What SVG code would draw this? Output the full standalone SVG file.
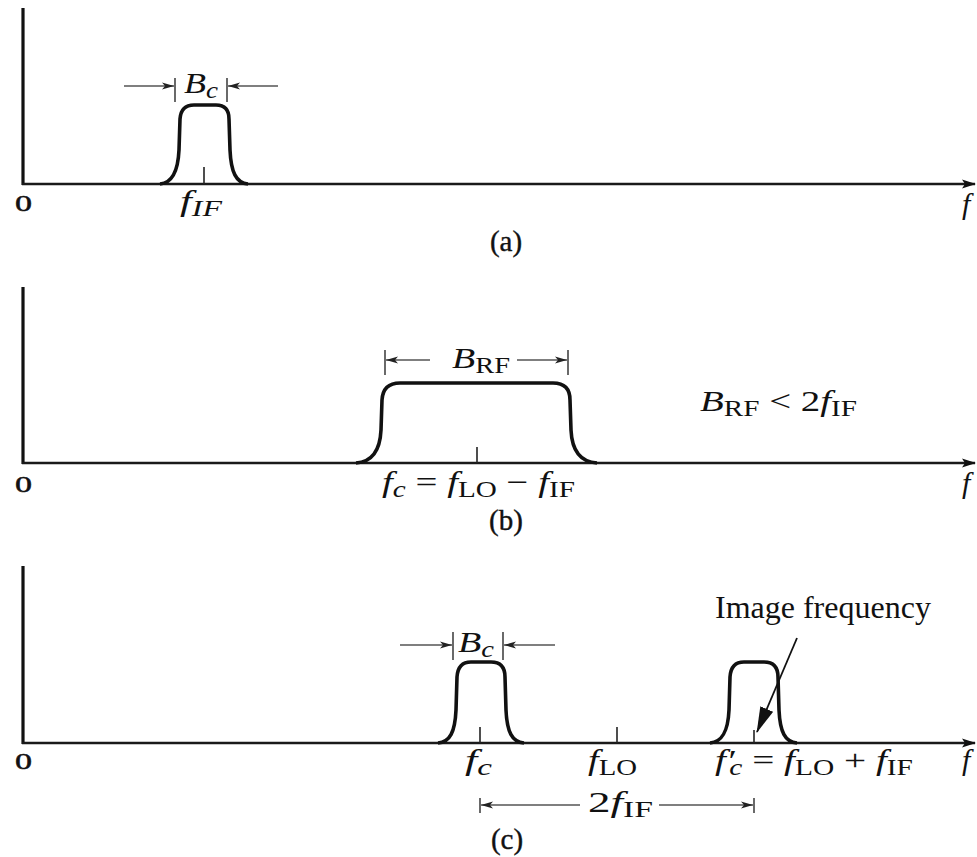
<svg xmlns="http://www.w3.org/2000/svg" width="977" height="857" viewBox="0 0 977 857">
<style>
.bg{fill:#fff}
.axis{stroke:#1a1a1a;stroke-width:2.6;fill:none}
.yaxis{stroke:#111;stroke-width:3.2;fill:none}
.pulse{stroke:#111;stroke-width:3.6;fill:none;stroke-linejoin:round}
.tick{stroke:#222;stroke-width:1.6}
.bar{stroke:#444;stroke-width:1.6}
.dim{stroke:#555;stroke-width:1.4;fill:none}
.t{font-family:"Liberation Serif","Times New Roman",serif;fill:#111}
.m{font-style:italic}
.up{font-style:normal}
.sub{font-size:75%}
.cap{font-size:29px;stroke:#111;stroke-width:0.4}
.lab{font-size:30px}
.zero{font-size:24px;stroke:#111;stroke-width:0.5}
</style>
<defs>
<marker id="ah" viewBox="0 0 12 8" refX="12" refY="4" markerWidth="13" markerHeight="8" markerUnits="userSpaceOnUse" orient="auto">
<path d="M0,0.5 L12,4 L0,7.5 L3,4 z" fill="#222"/>
</marker>
<marker id="axh" viewBox="0 0 14 10" refX="13" refY="5" markerWidth="14" markerHeight="10" markerUnits="userSpaceOnUse" orient="auto">
<path d="M0,0.5 L14,5 L0,9.5 L3,5 z" fill="#111"/>
</marker>
<marker id="bigh" viewBox="0 0 26 14" refX="25" refY="7" markerWidth="26" markerHeight="14" markerUnits="userSpaceOnUse" orient="auto">
<path d="M0,0 L26,7 L0,14 z" fill="#111"/>
</marker>
</defs>
<rect class="bg" x="0" y="0" width="977" height="857"/>

<g id="panel-a">
<line class="yaxis" x1="23" y1="8" x2="23" y2="185"/>
<line class="axis" x1="22" y1="184" x2="975" y2="184" marker-end="url(#axh)"/>
<path class="pulse" d="M160,184 C172,183 178,172 179,150 L180,119 Q181,105 194,105 L216,105 Q229,105 229,119 L230,150 C231,172 236,183 248,184"/>
<line class="tick" x1="204" y1="167" x2="204" y2="184"/>
<line class="bar" x1="175" y1="78" x2="175" y2="102"/>
<line class="bar" x1="227" y1="78" x2="227" y2="102"/>
<line class="dim" x1="124" y1="86" x2="174" y2="86" marker-end="url(#ah)"/>
<line class="dim" x1="278" y1="86" x2="228" y2="86" marker-end="url(#ah)"/>
<text class="t lab m" x="184" y="93" textLength="34" lengthAdjust="spacingAndGlyphs">B<tspan class="sub" dy="5">c</tspan></text>
<text class="t zero" x="15" y="211" textLength="17" lengthAdjust="spacingAndGlyphs">0</text>
<text class="t lab m" x="180" y="211" textLength="42" lengthAdjust="spacingAndGlyphs">f<tspan class="sub" dy="5">IF</tspan></text>
<text class="t lab m" x="962" y="214">f</text>
<text class="t cap" x="506" y="251" text-anchor="middle">(a)</text>
</g>

<g id="panel-b">
<line class="yaxis" x1="23" y1="287" x2="23" y2="464"/>
<line class="axis" x1="22" y1="463" x2="975" y2="463" marker-end="url(#axh)"/>
<path class="pulse" d="M356,463 C371,462 380,452 381,430 L382,400 Q383,383 400,383 L553,383 Q570,383 570,400 L571,430 C572,452 581,462 597,463"/>
<line class="tick" x1="477" y1="447" x2="477" y2="463"/>
<line class="bar" x1="385" y1="350" x2="385" y2="375"/>
<line class="bar" x1="568" y1="350" x2="568" y2="375"/>
<line class="dim" x1="430" y1="360" x2="386" y2="360" marker-end="url(#ah)"/>
<line class="dim" x1="517" y1="360" x2="567" y2="360" marker-end="url(#ah)"/>
<text class="t lab m" x="452" y="368" textLength="58" lengthAdjust="spacingAndGlyphs">B<tspan class="sub up" dy="5">RF</tspan></text>
<text class="t zero" x="15" y="492" textLength="17" lengthAdjust="spacingAndGlyphs">0</text>
<text class="t lab m" x="382" y="492" textLength="193" lengthAdjust="spacingAndGlyphs">f<tspan class="sub" dy="5">c</tspan><tspan class="up" dy="-5"> = </tspan>f<tspan class="sub up" dy="5">LO</tspan><tspan class="up" dy="-5"> − </tspan>f<tspan class="sub up" dy="5">IF</tspan></text>
<text class="t lab m" x="700" y="411" textLength="157" lengthAdjust="spacingAndGlyphs">B<tspan class="sub up" dy="5">RF</tspan><tspan class="up" dy="-5"> &lt; 2</tspan>f<tspan class="sub up" dy="5">IF</tspan></text>
<text class="t lab m" x="962" y="493">f</text>
<text class="t cap" x="506" y="530" text-anchor="middle">(b)</text>
</g>

<g id="panel-c">
<line class="yaxis" x1="23" y1="566" x2="23" y2="744"/>
<line class="axis" x1="22" y1="743" x2="975" y2="743" marker-end="url(#axh)"/>
<path class="pulse" d="M438,743 C450,742 455,732 456,710 L457,677 Q458,662 471,662 L491,662 Q505,662 505,677 L506,710 C507,732 512,742 524,743"/>
<path class="pulse" d="M710,743 C722,742 728,732 729,710 L730,677 Q731,662 744,662 L764,662 Q778,662 778,677 L779,710 C780,732 785,742 797,743"/>
<line class="tick" x1="480" y1="727" x2="480" y2="743"/>
<line class="tick" x1="617" y1="727" x2="617" y2="743"/>
<line class="tick" x1="754" y1="730" x2="754" y2="743"/>
<line class="bar" x1="453" y1="632" x2="453" y2="660"/>
<line class="bar" x1="503" y1="632" x2="503" y2="660"/>
<line class="dim" x1="400" y1="645" x2="452" y2="645" marker-end="url(#ah)"/>
<line class="dim" x1="555" y1="645" x2="504" y2="645" marker-end="url(#ah)"/>
<text class="t lab m" x="458" y="652" textLength="36" lengthAdjust="spacingAndGlyphs">B<tspan class="sub" dy="5">c</tspan></text>
<text class="t zero" x="15" y="769" textLength="17" lengthAdjust="spacingAndGlyphs">0</text>
<text class="t lab m" x="465" y="770" textLength="27" lengthAdjust="spacingAndGlyphs">f<tspan class="sub" dy="5">c</tspan></text>
<text class="t lab m" x="588" y="770" textLength="49" lengthAdjust="spacingAndGlyphs">f<tspan class="sub up" dy="5">LO</tspan></text>
<text class="t lab m" x="715" y="770" textLength="198" lengthAdjust="spacingAndGlyphs">f′<tspan class="sub" dx="-4" dy="5">c</tspan><tspan class="up" dy="-5"> = </tspan>f<tspan class="sub up" dy="5">LO</tspan><tspan class="up" dy="-5"> + </tspan>f<tspan class="sub up" dy="5">IF</tspan></text>
<text class="t lab m" x="962" y="770">f</text>
<text class="t" x="715" y="618" font-size="32">Image frequency</text>
<line x1="797" y1="638" x2="757" y2="732" stroke="#111" stroke-width="1.8" marker-end="url(#bigh)"/>
<line class="bar" x1="480" y1="798" x2="480" y2="813"/>
<line class="bar" x1="754" y1="798" x2="754" y2="813"/>
<line class="dim" x1="580" y1="805" x2="481" y2="805" marker-end="url(#ah)"/>
<line class="dim" x1="659" y1="805" x2="753" y2="805" marker-end="url(#ah)"/>
<text class="t lab" x="588" y="812" textLength="65" lengthAdjust="spacingAndGlyphs">2<tspan class="m">f</tspan><tspan class="sub" dy="5">IF</tspan></text>
<text class="t cap" x="507" y="849" text-anchor="middle">(c)</text>
</g>
</svg>
